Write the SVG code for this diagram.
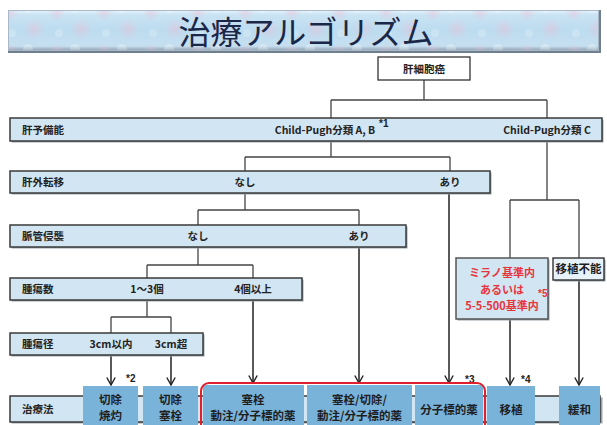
<svg xmlns="http://www.w3.org/2000/svg" width="607" height="425" viewBox="0 0 607 425">
<defs>
<linearGradient id="tg" x1="0" y1="0" x2="0" y2="1">
<stop offset="0" stop-color="#e9f4fb"/>
<stop offset="0.12" stop-color="#c9e3f3"/>
<stop offset="0.5" stop-color="#bcdcef"/>
<stop offset="0.88" stop-color="#c6dff0"/>
<stop offset="1" stop-color="#8a9aaa"/>
</linearGradient>
<radialGradient id="pk" cx="0.5" cy="0.5" r="0.5">
<stop offset="0" stop-color="#eebdd6" stop-opacity="0.45"/>
<stop offset="1" stop-color="#eebdd6" stop-opacity="0"/>
</radialGradient>
<pattern id="tex" width="47" height="41" patternUnits="userSpaceOnUse">
<circle cx="10" cy="12" r="9" fill="url(#pk)"/>
<circle cx="34" cy="29" r="11" fill="url(#pk)"/>
<circle cx="28" cy="8" r="5" fill="#ffffff" fill-opacity="0.25"/>
<circle cx="12" cy="33" r="4" fill="#ffffff" fill-opacity="0.2"/>
</pattern>
<marker id="ar" markerWidth="10" markerHeight="10" refX="9" refY="5" orient="auto" markerUnits="userSpaceOnUse">
<path d="M1.5,0.8 L9,5 L1.5,9.2" fill="none" stroke="#222" stroke-width="1.4"/>
</marker>
</defs>
<style>
.bar{fill:#d2e5f2;stroke:#3a3a3a;stroke-width:1.5}
.sh{fill:#9aa4ad}
.lbl{font-family:"Noto Sans CJK JP","Noto Sans",sans-serif;font-size:10.5px;font-weight:bold;fill:#222}
.cat{font-family:"Noto Sans CJK JP","Noto Sans",sans-serif;font-size:10.5px;font-weight:bold;fill:#222;text-anchor:middle}
.tx{font-family:"Noto Sans CJK JP","Noto Sans",sans-serif;font-size:11.5px;font-weight:bold;fill:#1e1e1e;text-anchor:middle}
.fn{font-family:"Liberation Sans","Noto Sans",sans-serif;font-size:10px;font-weight:bold;fill:#222}
.tb{fill:#7ab3da}
.ln{fill:none;stroke:#444;stroke-width:1.3}
.la{fill:none;stroke:#222;stroke-width:1.5}
.red{font-family:"Noto Sans CJK JP","Noto Sans",sans-serif;font-size:11px;font-weight:bold;fill:#e8343c;text-anchor:middle}
</style>
<rect x="0" y="0" width="607" height="425" fill="#ffffff"/>

<g id="title">
<rect x="8" y="10" width="593" height="43" fill="#6f7f90"/>
<rect x="8" y="10" width="591" height="41" fill="url(#tg)"/>
<rect x="8" y="10" width="591" height="41" fill="url(#tex)"/>
<rect x="8.5" y="10.5" width="590" height="40" fill="none" stroke="#a9b8c6" stroke-width="1"/>
<text x="306" y="44" font-family="'Noto Sans CJK JP','Noto Sans',sans-serif" font-size="32" fill="#1b2748" text-anchor="middle">治療アルゴリズム</text>
</g>

<g id="connectors">
<path class="ln" d="M424,80 V100 M331,100 H547 M331,100 V118 M547,100 V118"/>
<path class="ln" d="M331,141 V157 M245,157 H450 M245,157 V171 M450,157 V171"/>
<path class="ln" d="M245,193 V210 M198,210 H359 M198,210 V225 M359,210 V225"/>
<path class="ln" d="M198,247 V265 M147,265 H253 M147,265 V278 M253,265 V278"/>
<path class="ln" d="M147,300 V317 M111,317 H171 M111,317 V333 M171,317 V333"/>
<path class="ln" d="M547,141 V200 M510,200 H579 M510,200 V258 M579,200 V258"/>
<path class="la" marker-end="url(#ar)" d="M111,355 V385"/>
<path class="la" marker-end="url(#ar)" d="M171,355 V385"/>
<path class="la" marker-end="url(#ar)" d="M253,300 V383"/>
<path class="la" marker-end="url(#ar)" d="M359,247 V383"/>
<path class="la" marker-end="url(#ar)" d="M449,193 V383"/>
<path class="la" marker-end="url(#ar)" d="M510,319 V385"/>
<path class="la" marker-end="url(#ar)" d="M579,280 V385"/>
</g>

<g id="n-hcc">
<rect x="378" y="57" width="92" height="23" fill="#ffffff" stroke="#333" stroke-width="1.3"/>
<text class="cat" x="424" y="73">肝細胞癌</text>
</g>

<g id="n-liver-reserve">
<rect class="sh" x="11.5" y="119.5" width="592" height="23"/>
<rect class="bar" x="10" y="118" width="592" height="23"/>
<text class="lbl" x="22" y="134">肝予備能</text>
<text class="cat" x="325" y="134" font-size="10px">Child-Pugh分類 A, B</text>
<text class="fn" x="379" y="127" font-size="9">*1</text>
<text class="cat" x="547" y="134" font-size="10px">Child-Pugh分類 C</text>
</g>

<g id="n-extrahepatic">
<rect class="sh" x="11.5" y="172.5" width="480" height="22"/>
<rect class="bar" x="10" y="171" width="480" height="22"/>
<text class="lbl" x="22" y="186">肝外転移</text>
<text class="cat" x="245" y="186">なし</text>
<text class="cat" x="450" y="186">あり</text>
</g>

<g id="n-vascular">
<rect class="sh" x="11.5" y="226.5" width="396" height="22"/>
<rect class="bar" x="10" y="225" width="396" height="22"/>
<text class="lbl" x="22" y="240">脈管侵襲</text>
<text class="cat" x="198" y="240">なし</text>
<text class="cat" x="359" y="240">あり</text>
</g>

<g id="n-tumor-number">
<rect class="sh" x="11.5" y="279.5" width="292" height="22"/>
<rect class="bar" x="10" y="278" width="292" height="22"/>
<text class="lbl" x="22" y="293">腫瘍数</text>
<text class="cat" x="147" y="293">1〜3個</text>
<text class="cat" x="253" y="293">4個以上</text>
</g>

<g id="n-tumor-size">
<rect class="sh" x="11.5" y="334.5" width="193" height="22"/>
<rect class="bar" x="10" y="333" width="193" height="22"/>
<text class="lbl" x="22" y="348">腫瘍径</text>
<text class="cat" x="111" y="348">3cm以内</text>
<text class="cat" x="171" y="348">3cm超</text>
</g>

<g id="n-milan">
<rect class="sh" x="457.5" y="259.5" width="92" height="61"/>
<rect x="456" y="258" width="92" height="61" fill="#d2e5f2" stroke="#555" stroke-width="1.5"/>
<text class="red" x="502" y="277">ミラノ基準内</text>
<text class="red" x="502" y="294">あるいは</text>
<text class="red" x="502" y="310">5-5-500基準内</text>
<text x="538" y="297" font-family="'Liberation Sans',sans-serif" font-size="10" font-weight="bold" fill="#e8343c">*5</text>
</g>

<g id="n-no-transplant">
<rect class="sh" x="554.5" y="259.5" width="51" height="22"/>
<rect x="553" y="258" width="51" height="22" fill="#e8f2f9" stroke="#333" stroke-width="1.4"/>
<text class="tx" x="578.5" y="273" font-size="11">移植不能</text>
</g>

<g id="n-treatment">
<rect class="sh" x="11.5" y="397.5" width="591" height="26"/>
<rect class="bar" x="10" y="396" width="590" height="26"/>
<text class="lbl" x="22" y="413">治療法</text>
</g>

<g id="t-resection-ablation">
<rect class="tb" x="83" y="386" width="55" height="45"/>
<text class="tx" x="110.5" y="404">切除</text>
<text class="tx" x="110.5" y="420">焼灼</text>
<text class="fn" x="126" y="382">*2</text>
</g>

<g id="t-resection-embolization">
<rect class="tb" x="143" y="386" width="55" height="45"/>
<text class="tx" x="170.5" y="404">切除</text>
<text class="tx" x="170.5" y="420">塞栓</text>
</g>

<g id="t-embolization">
<rect class="tb" x="203" y="385" width="101" height="45"/>
<text class="tx" x="253" y="404">塞栓</text>
<text class="tx" x="253" y="420">動注/分子標的薬</text>
</g>

<g id="t-emb-res">
<rect class="tb" x="307" y="385" width="105" height="45"/>
<text class="tx" x="359.5" y="404">塞栓/切除/</text>
<text class="tx" x="359.5" y="420">動注/分子標的薬</text>
</g>

<g id="t-molecular">
<rect class="tb" x="415" y="385" width="68" height="45"/>
<text class="tx" x="449" y="414">分子標的薬</text>
<text class="fn" x="465" y="383">*3</text>
</g>

<g id="red-frame">
<rect x="201" y="383" width="284" height="60" rx="8" fill="none" stroke="#e0202c" stroke-width="2"/>
</g>

<g id="t-transplant">
<rect class="tb" x="487" y="386" width="48" height="45"/>
<text class="tx" x="511" y="414">移植</text>
<text class="fn" x="521" y="383">*4</text>
</g>

<g id="t-palliative">
<rect class="tb" x="559" y="386" width="41" height="45"/>
<text class="tx" x="579.5" y="414">緩和</text>
</g>
</svg>
